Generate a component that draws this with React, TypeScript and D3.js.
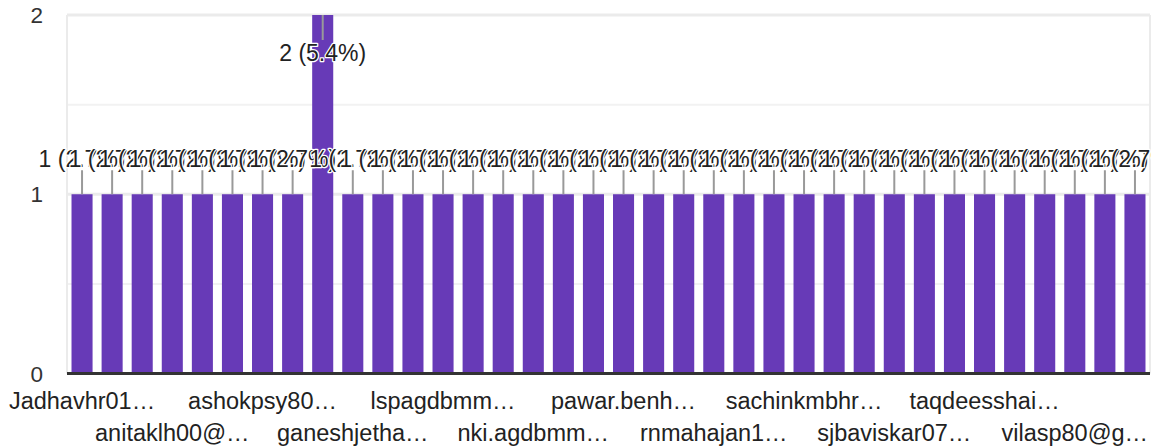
import React from "react";
import * as d3 from "d3";

// one bar per respondent, sorted as in the form summary
const counts = [
  1, 1, 1, 1, 1, 1, 1, 1, 2, 1, 1, 1, 1, 1, 1, 1, 1, 1,
  1, 1, 1, 1, 1, 1, 1, 1, 1, 1, 1, 1, 1, 1, 1, 1, 1, 1,
];
// only every third category gets a label on the axis
const axisLabels = [
  "Jadhavhr01…",
  "anitaklh00@…",
  "ashokpsy80…",
  "ganeshjetha…",
  "lspagdbmm…",
  "nki.agdbmm…",
  "pawar.benh…",
  "rnmahajan1…",
  "sachinkmbhr…",
  "sjbaviskar07…",
  "taqdeesshai…",
  "vilasp80@g…",
];
const yTicks = [0, 1, 2];
const yMinorTicks = [0.5, 1.5];

const width = 1156;
const height = 448;
const left = 67;
const right = 1150;
const top = 15;
const bottom = 373.5;
const font = "'Liberation Sans', Arial, sans-serif";

const App = () => {
  const total = d3.sum(counts);
  const x = d3
    .scaleBand<number>()
    .domain(counts.map((_, i) => i))
    .range([left, right])
    .paddingInner(0.3)
    .paddingOuter(0.15);
  const y = d3.scaleLinear().domain([0, 2]).range([bottom, top]);

  const label = (v: number) => `${v} (${((v / total) * 100).toFixed(1)}%)`;

  return (
    <svg
      width={width}
      height={height}
      style={{ position: "absolute", left: 0, top: 0, background: "#fff" }}
      fontFamily={font}
    >
      <defs>
        <clipPath id="annClip">
          <rect x={0} y={0} width={right + 1} height={height} />
        </clipPath>
      </defs>

      {/* gridlines */}
      {yMinorTicks.map((t) => (
        <line key={"m" + t} x1={left} x2={right} y1={y(t)} y2={y(t)} stroke="#f2f2f2" strokeWidth={2} />
      ))}
      {yTicks.slice(1).map((t) => (
        <line key={"g" + t} x1={left} x2={right} y1={y(t)} y2={y(t)} stroke="#ebebeb" strokeWidth={3} />
      ))}
      <line x1={left} x2={left} y1={top} y2={bottom} stroke="#ebebeb" strokeWidth={2} />
      <line x1={right} x2={right} y1={top} y2={bottom} stroke="#ebebeb" strokeWidth={2} />

      {/* y tick labels */}
      {yTicks.map((t) => (
        <text key={"t" + t} x={43} y={y(t) + 8} textAnchor="end" fontSize={22.5} fill="#333">
          {t}
        </text>
      ))}

      {/* bars */}
      {counts.map((v, i) => (
        <rect
          key={"b" + i}
          x={x(i)}
          y={y(v)}
          width={x.bandwidth()}
          height={y(0) - y(v)}
          fill="#673ab7"
        />
      ))}

      {/* baseline */}
      <line x1={left} x2={right} y1={bottom} y2={bottom} stroke="#333" strokeWidth={3} />

      {/* annotations: stem + label, drawn left to right so later ones overlap */}
      <g clipPath="url(#annClip)">
        {counts.map((v, i) => {
          const cx = (x(i) as number) + x.bandwidth() / 2;
          const yt = y(v);
          const inside = yt - 50 < 0;
          const s2 = inside ? yt + 25 : yt - 24;
          const ty = inside ? yt + 46 : yt - 27;
          return (
            <g key={"a" + i}>
              <line x1={cx} x2={cx} y1={yt} y2={s2} stroke="#999" strokeWidth={2} />
              <text
                x={cx}
                y={ty}
                textAnchor="middle"
                fontSize={23}
                fill="#222"
                stroke="#fff"
                strokeWidth={2.5}
                strokeLinejoin="round"
                paintOrder="stroke"
              >
                {label(v)}
              </text>
            </g>
          );
        })}
      </g>

      {/* x labels, every third bar, alternating rows */}
      {axisLabels.map((l, k) => {
        const i = k * 3;
        const cx = (x(i) as number) + x.bandwidth() / 2;
        return (
          <text key={"x" + k} x={cx} y={k % 2 === 0 ? 409 : 441} textAnchor="middle" fontSize={23.5} fill="#222">
            {l}
          </text>
        );
      })}
    </svg>
  );
};

export default App;
